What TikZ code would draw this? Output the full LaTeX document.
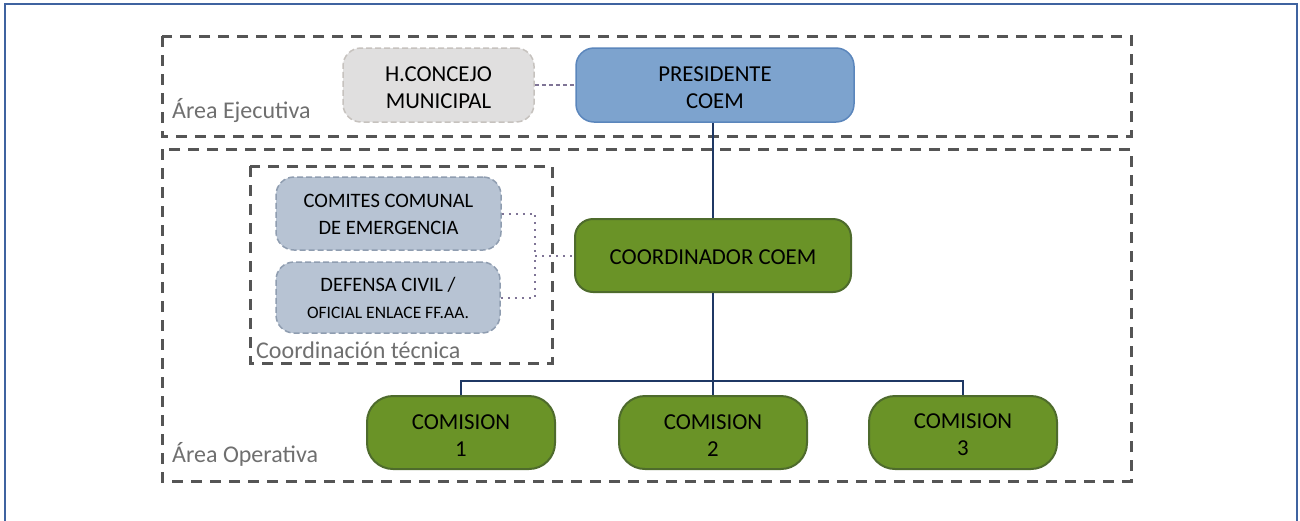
\documentclass[tikz,border=0pt]{standalone}
\usepackage{fontspec}
\setmainfont{Carlito}
\newcommand{\bigstrt}{\rule{0pt}{20pt}}
\newcommand{\smlstrt}{\rule{0pt}{16pt}}
\definecolor{framec}{HTML}{3F63A0}
\definecolor{areac}{HTML}{555555}
\definecolor{labelc}{HTML}{6F6F6F}
\definecolor{presfill}{HTML}{7DA3CE}
\definecolor{presdraw}{HTML}{5B86BC}
\definecolor{hcfill}{HTML}{E0DFDF}
\definecolor{hcdraw}{HTML}{C6C2BE}
\definecolor{tecfill}{HTML}{B7C3D3}
\definecolor{tecdraw}{HTML}{8F9DB0}
\definecolor{grfill}{HTML}{6A9327}
\definecolor{grdraw}{HTML}{4E6B2C}
\definecolor{connc}{HTML}{1F3864}
\definecolor{dotc}{HTML}{7F7496}
\tikzset{
  area/.style={draw=areac, line width=3pt, dash pattern=on 11pt off 8pt},
  arealabel/.style={anchor=base west, inner sep=0pt, text=labelc, font=\fontsize{24}{26}\selectfont},
  boxbase/.style={rectangle, rounded corners=18pt, line width=1.5pt, align=center, inner sep=0pt, text=black, font=\fontsize{22.8}{27}\selectfont},
  presbox/.style={boxbase, fill=presfill, draw=presdraw},
  hcbox/.style={boxbase, fill=hcfill, draw=hcdraw, dash pattern=on 6pt off 3pt},
  tecbox/.style={boxbase, fill=tecfill, draw=tecdraw, dash pattern=on 6pt off 3pt, font=\fontsize{20.5}{27}\selectfont},
  grbox/.style={boxbase, fill=grfill, draw=grdraw, line width=2pt},
  combox/.style={grbox, rounded corners=26pt},
  conn/.style={draw=connc, line width=1.5pt},
  dotl/.style={draw=dotc, line width=2pt, dash pattern=on 2pt off 5pt},
  dashl/.style={draw=dotc, line width=1.6pt, dash pattern=on 4pt off 3pt}
}
\begin{document}
\begin{tikzpicture}[x=1pt,y=-1pt]
\useasboundingbox (0,0) rectangle (1300,520);
% outer frame
\draw[draw=framec, line width=1.5pt] (5,530) -- (5,4) -- (1297,4) -- (1297,530);
% areas
\draw[area] (162,36) rectangle (1131,136);
\draw[area] (162,149) rectangle (1131,481);
\draw[area] (250,166) rectangle (552,363);
\node[arealabel] (lej) at (172,118) {Área Ejecutiva};
\node[arealabel] (lop) at (172,462) {Área Operativa};
\node[arealabel] (lct) at (256,358) {Coordinación técnica};
% nodes
\node[hcbox, minimum width=191pt, minimum height=74pt] (hc) at (438.5,85) {\bigstrt H.CONCEJO\\MUNICIPAL};
\node[presbox, minimum width=278pt, minimum height=74pt] (pres) at (715,85) {\bigstrt PRESIDENTE\\COEM};
\node[grbox, minimum width=276pt, minimum height=73pt] (coord) at (713,255.5) {\rule{0pt}{19pt}COORDINADOR COEM};
\node[tecbox, minimum width=225pt, minimum height=73pt] (com) at (388.5,213.5) {\smlstrt COMITES COMUNAL\\DE EMERGENCIA};
\node[tecbox, minimum width=224pt, minimum height=71pt] (def) at (388,297.5) {\smlstrt DEFENSA CIVIL /\\{\fontsize{17.5}{20}\selectfont OFICIAL ENLACE FF.AA.}};
\node[combox, minimum width=188pt, minimum height=73pt] (c1) at (461,432.5) {\bigstrt COMISION\\1};
\node[combox, minimum width=188pt, minimum height=73pt] (c2) at (713,432.5) {\bigstrt COMISION\\2};
\node[combox, minimum width=188pt, minimum height=73pt] (c3) at (963,432.5) {\bigstrt COMISION\\3};
% connectors
\coordinate (bus) at (713,381);
\coordinate (dj) at (535,255.5);
\draw[conn] (pres.south -| coord.north) -- (coord.north);
\draw[conn] (coord.south) -- (bus);
\draw[conn] (bus) -| (c1.north);
\draw[conn] (bus) -| (c3.north);
\draw[conn] (bus) -- (c2.north);
\draw[dashl] (hc.east) -- (pres.west);
\draw[dotl] (com.east) -| (dj);
\draw[dotl] (def.east) -| (dj);
\draw[dotl] (dj) -- (coord.west);
\end{tikzpicture}
\end{document}
